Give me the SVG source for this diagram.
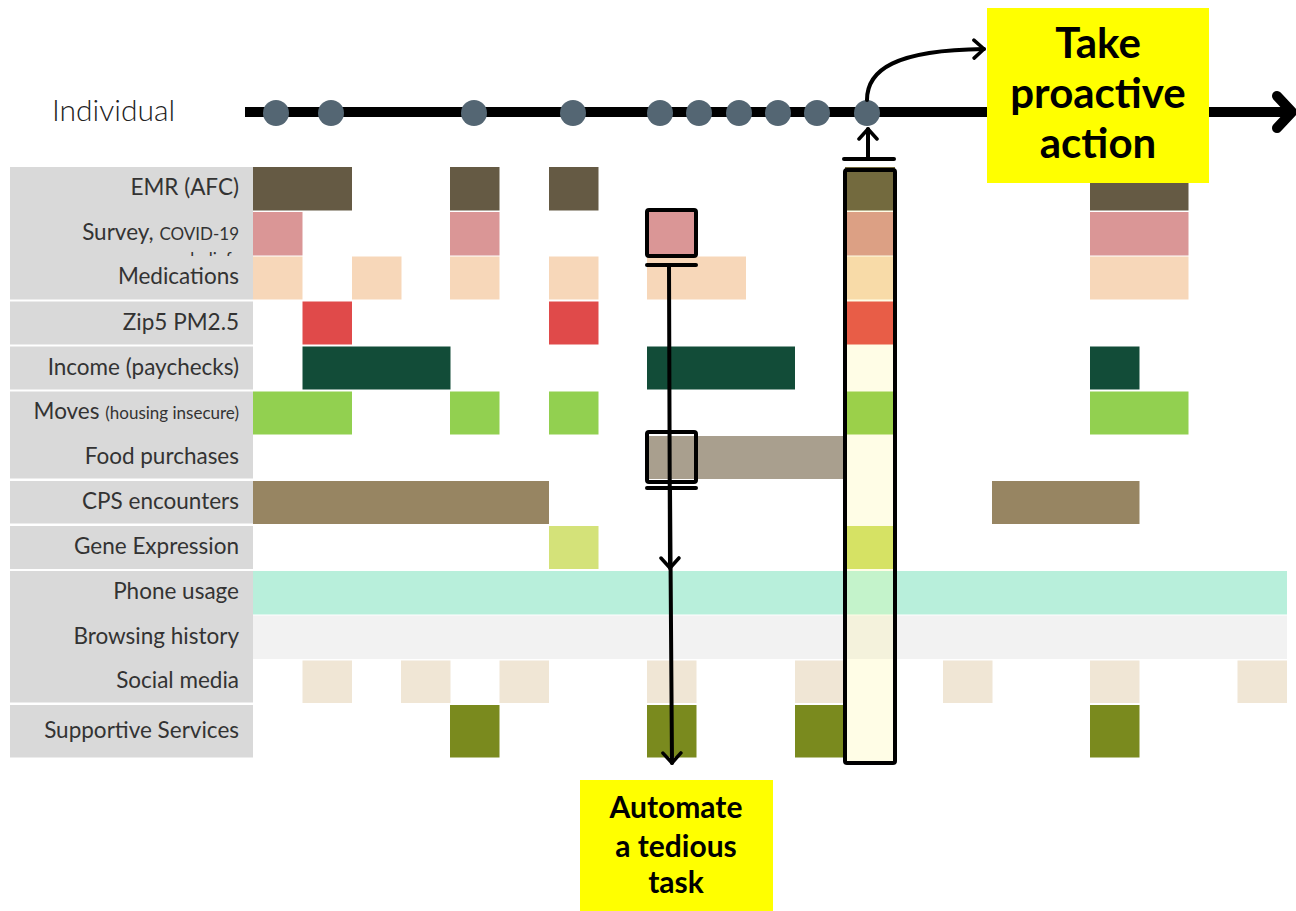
<svg xmlns="http://www.w3.org/2000/svg" width="1296" height="911" viewBox="0 0 1296 911">
<style>
.lbl{font-family:Lato,"Liberation Sans",sans-serif;font-size:22.5px;fill:#333;text-anchor:end}
.sm{font-size:17px}
.panel{fill:#d9d9d9}
.ln{stroke:#000;stroke-width:4;fill:none;stroke-linecap:round;stroke-linejoin:round}
.box{fill:none;stroke:#000;stroke-width:4}
.call{font-family:Lato,"Liberation Sans",sans-serif;font-weight:bold;fill:#000;text-anchor:middle}
.dot{fill:#546673}
</style>
<defs>
<marker id="chev" viewBox="-12 -12 24 24" markerWidth="24" markerHeight="24" markerUnits="userSpaceOnUse" orient="auto" refX="0" refY="0">
<path d="M-10,-9 L0,0 L-10,9" fill="none" stroke="#000" stroke-width="3.5" stroke-linecap="round" stroke-linejoin="round"/>
</marker>
<clipPath id="surveyclip"><rect x="10" y="211" width="243" height="45"/></clipPath>
</defs>
<rect width="1296" height="911" fill="#fff"/>

<g id="label-panel">
<rect class="panel" x="10" y="167" width="243" height="132.5"/>
<rect class="panel" x="10" y="301.5" width="243" height="43"/>
<rect class="panel" x="10" y="346.5" width="243" height="43"/>
<rect class="panel" x="10" y="391.5" width="243" height="87"/>
<rect class="panel" x="10" y="481" width="243" height="42.5"/>
<rect class="panel" x="10" y="526" width="243" height="43"/>
<rect class="panel" x="10" y="571" width="243" height="131.5"/>
<rect class="panel" x="10" y="705" width="243" height="52.5"/>
<text class="lbl" x="239" y="195">EMR (AFC)</text>
<text class="lbl" x="239" y="240">Survey, <tspan class="sm">COVID-19</tspan></text>
<text class="lbl sm" x="239" y="265" clip-path="url(#surveyclip)">beliefs</text>
<text class="lbl" x="239" y="284">Medications</text>
<text class="lbl" x="239" y="330">Zip5 PM2.5</text>
<text class="lbl" x="239" y="375">Income (paychecks)</text>
<text class="lbl" x="239" y="419">Moves <tspan class="sm">(housing insecure)</tspan></text>
<text class="lbl" x="239" y="464">Food purchases</text>
<text class="lbl" x="239" y="509">CPS encounters</text>
<text class="lbl" x="239" y="554">Gene Expression</text>
<text class="lbl" x="239" y="599">Phone usage</text>
<text class="lbl" x="239" y="644">Browsing history</text>
<text class="lbl" x="239" y="688">Social media</text>
<text class="lbl" x="239" y="738">Supportive Services</text>
</g>

<g id="cells">
<g fill="#655a44">
<rect x="253" y="167" width="99" height="43.5"/>
<rect x="450" y="167" width="49.5" height="43.5"/>
<rect x="549" y="167" width="49.5" height="43.5"/>
<rect x="1090" y="167" width="98.5" height="43.5"/>
</g>
<g fill="#da9696">
<rect x="253" y="212" width="49.5" height="43.5"/>
<rect x="450" y="212" width="49.5" height="43.5"/>
<rect x="647" y="212" width="49.5" height="43.5"/>
<rect x="1090" y="212" width="98.5" height="43.5"/>
</g>
<g fill="#f7d7b9">
<rect x="253" y="256.5" width="49.5" height="43"/>
<rect x="352" y="256.5" width="49.5" height="43"/>
<rect x="450" y="256.5" width="49.5" height="43"/>
<rect x="549" y="256.5" width="49.5" height="43"/>
<rect x="647" y="256.5" width="99" height="43"/>
<rect x="1090" y="256.5" width="98.5" height="43"/>
</g>
<g fill="#e04a4a">
<rect x="302.5" y="301.5" width="49.5" height="43"/>
<rect x="549" y="301.5" width="49.5" height="43"/>
</g>
<g fill="#124c38">
<rect x="302.5" y="346.5" width="148" height="43"/>
<rect x="647" y="346.5" width="148" height="43"/>
<rect x="1090" y="346.5" width="49.5" height="43"/>
</g>
<g fill="#92d050">
<rect x="253" y="391.5" width="99" height="43"/>
<rect x="450" y="391.5" width="49.5" height="43"/>
<rect x="549" y="391.5" width="49.5" height="43"/>
<rect x="1090" y="391.5" width="98.5" height="43"/>
</g>
<rect fill="#a99f8e" x="647" y="436" width="198" height="43"/>
<g fill="#978562">
<rect x="253" y="481" width="296" height="43"/>
<rect x="992" y="481" width="147.5" height="43"/>
</g>
<rect fill="#d4e279" x="549" y="526" width="49.5" height="43"/>
<rect fill="#b8efdb" x="253" y="571" width="1034" height="43.5"/>
<rect fill="#f2f2f2" x="253" y="615.5" width="1034" height="43.5"/>
<g fill="#f0e6d5">
<rect x="302.5" y="660.5" width="49.5" height="42.5"/>
<rect x="401" y="660.5" width="49.5" height="42.5"/>
<rect x="499.5" y="660.5" width="49.5" height="42.5"/>
<rect x="647" y="660.5" width="49.5" height="42.5"/>
<rect x="795" y="660.5" width="50" height="42.5"/>
<rect x="943" y="660.5" width="49.5" height="42.5"/>
<rect x="1090" y="660.5" width="49.5" height="42.5"/>
<rect x="1237.5" y="660.5" width="49.5" height="42.5"/>
</g>
<g fill="#7a8a1e">
<rect x="450" y="705" width="49.5" height="52.5"/>
<rect x="647" y="705" width="49.5" height="52.5"/>
<rect x="795" y="705" width="50" height="52.5"/>
<rect x="1090" y="705" width="49.5" height="52.5"/>
</g>
</g>

<g id="highlight-column">
<rect x="845" y="170" width="50" height="593" fill="#fffde6"/>
<rect x="845" y="167" width="50" height="43.5" fill="#736a3e"/>
<rect x="845" y="212" width="50" height="43.5" fill="#dca084"/>
<rect x="845" y="256.5" width="50" height="43" fill="#f8dba8"/>
<rect x="845" y="301.5" width="50" height="43" fill="#e85d47"/>
<rect x="845" y="391.5" width="50" height="43" fill="#9bd04a"/>
<rect x="845" y="526" width="50" height="43" fill="#d6e264"/>
<rect x="845" y="571" width="50" height="43.5" fill="#c4f3cb"/>
<rect x="845" y="615.5" width="50" height="43.5" fill="#f4f2dc"/>
<rect class="box" x="845" y="170" width="50" height="593" rx="2"/>
</g>

<g id="timeline">
<text x="52" y="121" font-family="Lato,'Liberation Sans',sans-serif" font-size="30" font-weight="300" fill="#222">Individual</text>
<line x1="245" y1="112" x2="1288" y2="112" stroke="#000" stroke-width="10"/>
<path d="M1277,96 L1292,112 L1277,128" fill="none" stroke="#000" stroke-width="10" stroke-linecap="round" stroke-linejoin="round"/>
<circle class="dot" cx="276" cy="113" r="13"/>
<circle class="dot" cx="331" cy="113" r="13"/>
<circle class="dot" cx="474" cy="113" r="13"/>
<circle class="dot" cx="573" cy="113" r="13"/>
<circle class="dot" cx="660" cy="113" r="13"/>
<circle class="dot" cx="699" cy="113" r="13"/>
<circle class="dot" cx="739" cy="113" r="13"/>
<circle class="dot" cx="778" cy="113" r="13"/>
<circle class="dot" cx="817" cy="113" r="13"/>
<circle class="dot" cx="867" cy="113" r="13"/>
</g>

<g id="selections">
<rect class="box" x="647" y="210" width="49" height="46" rx="2"/>
<rect class="box" x="647" y="432" width="49" height="50" rx="2"/>
</g>

<g id="connectors">
<line class="ln" x1="647" y1="265" x2="696" y2="265"/>
<line class="ln" x1="669" y1="265" x2="670" y2="568" marker-end="url(#chev)"/>
<line class="ln" x1="647" y1="488" x2="696" y2="488"/>
<line class="ln" x1="670" y1="488" x2="672" y2="763" marker-end="url(#chev)"/>
<line class="ln" x1="844" y1="159" x2="894" y2="159"/>
<line class="ln" x1="868" y1="159" x2="868" y2="129" marker-end="url(#chev)"/>
<path class="ln" d="M867,100 C867,70 895,50 984,49" stroke-width="3" marker-end="url(#chev)"/>
</g>

<g id="callout-proactive">
<rect x="987" y="8" width="222" height="175" fill="#ffff00"/>
<text class="call" font-size="42" x="1098" y="58">Take</text>
<text class="call" font-size="42" x="1098" y="108">proactive</text>
<text class="call" font-size="42" x="1098" y="158">action</text>
</g>

<g id="callout-automate">
<rect x="580" y="780" width="193" height="131" fill="#ffff00"/>
<text class="call" font-size="30" x="676" y="818">Automate</text>
<text class="call" font-size="30" x="676" y="857">a tedious</text>
<text class="call" font-size="30" x="676" y="893">task</text>
</g>
</svg>
